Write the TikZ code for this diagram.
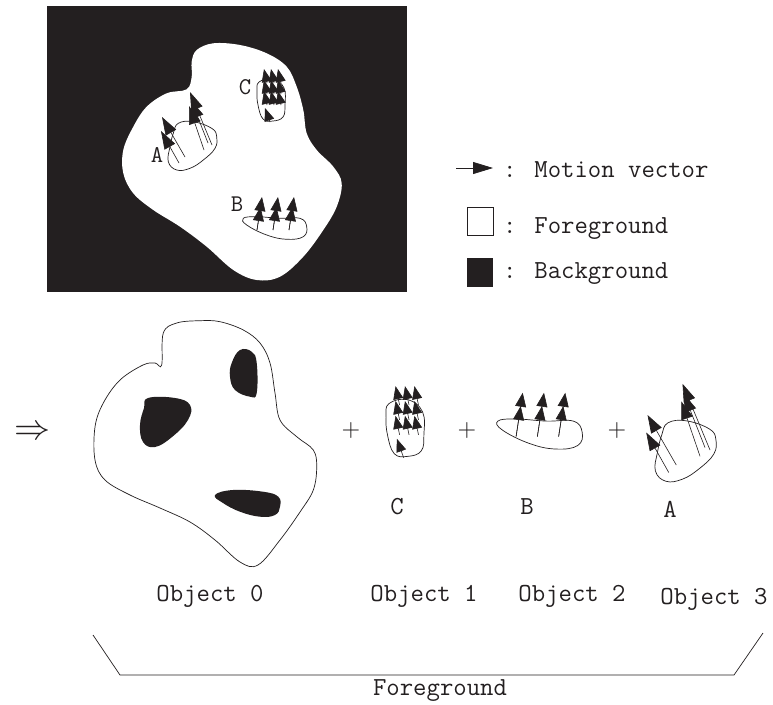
\documentclass[tikz,border=0pt]{standalone}
\usetikzlibrary{arrows.meta}
\definecolor{ink}{RGB}{35,31,32}

% motion vector groups, drawn around their own centre
\newcommand{\groupA}{%
  \draw[outline] plot[smooth cycle, tension=0.7] coordinates {(-13.7,-21.7) (1.3,-23.3) (19.7,-16.7) (24.7,-8.3) (23,3.3) (11.3,15) (-2,23.3) (-15.3,25) (-23.7,16.7) (-22,1.7) (-18.7,-11.7)};
  \draw[mvbig] (-7,12) -- (-30,-28);
  \draw[mvbig] (-13,18) -- (-31,-14);
  \draw[mvbig] (20,0) -- (-2,-53);
  \draw[mvbig] (12,5) -- (-3,-39);
  \draw[mvbig] (16,-2) -- (-1,-45);
}
\newcommand{\groupB}{%
  \draw[outline] plot[smooth cycle, tension=0.7] coordinates {(-31.7,-9.7) (-18.3,-11.3) (5,-9.7) (25,-9.7) (31.7,-1.3) (28.3,8.7) (11.7,11.3) (-8.3,7) (-28.3,-3)};
  \foreach \dx in {0,16,32}{
    \draw[mvmid] (-18+\dx,2) -- (-13+\dx,-31);
    \draw[mvmid] (-18+\dx,2) -- (-14.5+\dx,-21);
  }
}
\newcommand{\groupC}{%
  \draw[outline] plot[smooth cycle, tension=0.7] coordinates {(-12,-18) (2,-21) (13,-12) (14,5) (12,17) (2,21) (-8,19) (-13,5) (-14,-8)};
  \foreach \r in {-31,-20,-9}{
    \foreach \c in {-7,0,7}{
      \draw[mvsmall] (\c+3,\r+14) -- (\c,\r);
    }
  }
  \draw[mvsmall] (-1,22) -- (-6,8);
}

\begin{document}
\begin{tikzpicture}[x=1pt, y=-1pt,
    outline/.style={draw=ink, line width=0.7pt},
    mvbig/.style={draw=ink, line width=0.6pt, -{Triangle[length=18pt,width=12pt]}},
    mvmid/.style={draw=ink, line width=0.6pt, -{Triangle[length=14pt,width=11pt]}},
    mvsmall/.style={draw=ink, line width=0.6pt, -{Triangle[length=13pt,width=10pt]}},
    lbl/.style={font=\ttfamily\fontsize{26}{30}\selectfont, text=ink, inner sep=0pt},
    letter/.style={font=\ttfamily\fontsize{24}{28}\selectfont, text=ink, inner sep=0pt},
    sym/.style={text=ink, inner sep=0pt}]
  \useasboundingbox (0,0) rectangle (773,704);

  % frame with the foreground region
  \fill[ink] (47,6) rectangle (407,292);
  \fill[white] plot[smooth cycle, tension=0.6] coordinates {(191.7,61.7) (196.7,50) (213.3,43.3) (240,45) (266.7,53.3) (286.7,66.7) (296.7,86.7) (303.3,110) (306.7,133.3) (316.7,150) (333.3,166.7) (341.7,183.3) (336.7,206.7) (323.3,230) (303.3,256.7) (280,276.7) (256.7,280) (233.3,270) (206.7,246.7) (180,226.7) (153.3,210) (133.3,193.3) (123.3,173.3) (123.3,150) (133.3,126.7) (146.7,106.7) (166.7,93.3) (186.7,89.3) (191.7,76.7)};
  \begin{scope}[shift={(192,145)}] \groupA \end{scope}
  \begin{scope}[shift={(275,228)}] \groupB \end{scope}
  \begin{scope}[shift={(271,100)}] \groupC \end{scope}
  \node[letter, anchor=base] (tA) at (157,162) {A};
  \node[letter, anchor=base] (tB) at (237,211) {B};
  \node[letter, anchor=base] (tC) at (245,94) {C};

  % legend
  \draw[ink, line width=0.8pt, -{Triangle[length=20pt,width=12pt]}] (456,168) -- (493,168);
  \node[lbl, anchor=base west] (lmv) at (503,177) {: Motion vector};
  \draw[ink, line width=0.7pt] (467,207) rectangle (493,235);
  \node[lbl, anchor=base west] (lfg) at (503,233) {: Foreground};
  \fill[ink] (467,258) rectangle (493,287);
  \node[lbl, anchor=base west] (lbg) at (503,278) {: Background};

  % decomposition
  \node[sym] (impl) at (32,433) {\scalebox{3.6}{$\Rightarrow$}};
  \draw[outline, fill=white] plot[smooth cycle, tension=0.6] coordinates {(161.7,365) (163.3,333) (176.7,323) (200,320.7) (220,321.7) (243.3,330) (260,343) (270,363) (275,393) (280,420) (296.7,436.7) (313.3,450) (316.7,466.7) (313.3,490) (300,512) (280,540) (258,565) (240,562) (215,540) (190,522) (160,508) (130,495) (105,480) (95,460) (95,427) (103.3,403) (120,380) (143,365) (155,363)};
  \fill[ink] plot[smooth cycle, tension=0.7] coordinates {(240,350) (251.7,351.7) (256.7,363) (256.7,393) (250,396.7) (235,390) (230,376.7) (231.7,363)};
  \fill[ink] plot[smooth cycle, tension=0.7] coordinates {(148,398) (175,398) (190,405) (188,420) (172,437) (155,447) (143,442) (140,425) (144,408)};
  \fill[ink] plot[smooth cycle, tension=0.7] coordinates {(215,495) (233,490) (263,491.7) (278.3,496.7) (280,506.7) (275,515) (260,516.7) (240,511.7) (223,503)};

  \node[sym] (plus1) at (351,430) {\scalebox{2.4}{$+$}};
  \node[sym] (plus2) at (467,430) {\scalebox{2.4}{$+$}};
  \node[sym] (plus3) at (617,430) {\scalebox{2.4}{$+$}};

  \begin{scope}[shift={(405,428)}, scale=1.35] \groupC \end{scope}
  \begin{scope}[shift={(540,434)}, scale=1.33] \groupB \end{scope}
  \begin{scope}[shift={(685,450)}, scale=1.25] \groupA \end{scope}

  \node[lbl, anchor=base] (nC) at (397,514) {C};
  \node[lbl, anchor=base] (nB) at (527,514) {B};
  \node[lbl, anchor=base] (nA) at (670,517) {A};

  % object names
  \node[lbl, anchor=base] (obj0) at (210,601) {Object 0};
  \node[lbl, anchor=base] (obj1) at (424,601) {Object 1};
  \node[lbl, anchor=base] (obj2) at (572,601) {Object 2};
  \node[lbl, anchor=base] (obj3) at (714,604) {Object 3};

  % bracket
  \draw[ink, line width=0.7pt] (93,635) -- (120,675) -- (734,675) -- (763,633);
  \node[lbl, anchor=base] (fg) at (440,695) {Foreground};
\end{tikzpicture}
\end{document}
